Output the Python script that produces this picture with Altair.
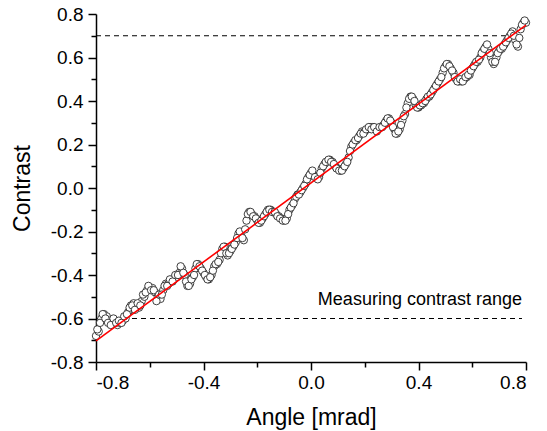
import altair as alt
import pandas as pd

# ---- data (two interleaved sweeps of samples) ----
angle_a = [
    -0.80, -0.79, -0.78, -0.77, -0.76, -0.75, -0.74, -0.73, -0.72, -0.71,
    -0.70, -0.69, -0.68, -0.67, -0.66, -0.65, -0.64, -0.63, -0.62, -0.61,
    -0.60, -0.59, -0.58, -0.57, -0.56, -0.55, -0.54, -0.53, -0.52, -0.51,
    -0.50, -0.49, -0.48, -0.47, -0.46, -0.45, -0.44, -0.43, -0.42, -0.41,
    -0.40, -0.39, -0.38, -0.37, -0.36, -0.35, -0.34, -0.33, -0.32, -0.31,
    -0.30, -0.29, -0.28, -0.27, -0.26, -0.25, -0.24, -0.23, -0.22, -0.21,
    -0.20, -0.19, -0.18, -0.17, -0.16, -0.15, -0.14, -0.13, -0.12, -0.11,
    -0.10, -0.09, -0.08, -0.07, -0.06, -0.05, -0.04, -0.03, -0.02, -0.01,
    0.00, 0.01, 0.02, 0.03, 0.04, 0.05, 0.06, 0.07, 0.08, 0.09,
    0.10, 0.11, 0.12, 0.13, 0.14, 0.15, 0.16, 0.17, 0.18, 0.19,
    0.20, 0.21, 0.22, 0.23, 0.24, 0.25, 0.26, 0.27, 0.28, 0.29,
    0.30, 0.31, 0.32, 0.33, 0.34, 0.35, 0.36, 0.37, 0.38, 0.39,
    0.40, 0.41, 0.42, 0.43, 0.44, 0.45, 0.46, 0.47, 0.48, 0.49,
    0.50, 0.51, 0.52, 0.53, 0.54, 0.55, 0.56, 0.57, 0.58, 0.59,
    0.60, 0.61, 0.62, 0.63, 0.64, 0.65, 0.66, 0.67, 0.68, 0.69,
    0.70, 0.71, 0.72, 0.73, 0.74, 0.75, 0.76, 0.77, 0.78, 0.79,
    0.80,
]
contrast_a = [
    -0.68, -0.66, -0.60, -0.58, -0.59, -0.61, -0.62, -0.61, -0.63, -0.62,
    -0.61, -0.60, -0.57, -0.54, -0.53, -0.55, -0.55, -0.52, -0.50, -0.47,
    -0.46, -0.46, -0.48, -0.50, -0.51, -0.47, -0.44, -0.44, -0.43, -0.42,
    -0.41, -0.39, -0.37, -0.40, -0.45, -0.44, -0.41, -0.37, -0.35, -0.37,
    -0.39, -0.41, -0.42, -0.40, -0.36, -0.35, -0.33, -0.28, -0.27, -0.31,
    -0.29, -0.27, -0.25, -0.21, -0.22, -0.24, -0.15, -0.11, -0.12, -0.13,
    -0.15, -0.16, -0.14, -0.12, -0.10, -0.10, -0.11, -0.12, -0.13, -0.14,
    -0.15, -0.14, -0.10, -0.08, -0.05, -0.03, -0.02, 0.00, 0.02, 0.05,
    0.07, 0.06, 0.05, 0.05, 0.09, 0.11, 0.12, 0.13, 0.12, 0.10,
    0.09, 0.08, 0.09, 0.11, 0.14, 0.19, 0.21, 0.22, 0.24, 0.26,
    0.26, 0.27, 0.28, 0.28, 0.27, 0.27, 0.28, 0.29, 0.31, 0.32,
    0.30, 0.27, 0.25, 0.27, 0.31, 0.34, 0.39, 0.42, 0.41, 0.38,
    0.37, 0.38, 0.39, 0.41, 0.42, 0.44, 0.46, 0.48, 0.50, 0.53,
    0.56, 0.57, 0.55, 0.53, 0.50, 0.49, 0.49, 0.50, 0.51, 0.52,
    0.55, 0.57, 0.58, 0.60, 0.63, 0.65, 0.64, 0.60, 0.57, 0.60,
    0.63, 0.64, 0.66, 0.68, 0.70, 0.72, 0.68, 0.65, 0.73, 0.76,
    0.76,
]
angle_b = [
    -0.795, -0.785, -0.775, -0.765, -0.755, -0.745, -0.735, -0.725, -0.715, -0.705,
    -0.695, -0.685, -0.675, -0.665, -0.655, -0.645, -0.635, -0.625, -0.615, -0.605,
    -0.595, -0.585, -0.575, -0.565, -0.555, -0.545, -0.535, -0.525, -0.515, -0.505,
    -0.495, -0.485, -0.475, -0.465, -0.455, -0.445, -0.435, -0.425, -0.415, -0.405,
    -0.395, -0.385, -0.375, -0.365, -0.355, -0.345, -0.335, -0.325, -0.315, -0.305,
    -0.295, -0.285, -0.275, -0.265, -0.255, -0.245, -0.235, -0.225, -0.215, -0.205,
    -0.195, -0.185, -0.175, -0.165, -0.155, -0.145, -0.135, -0.125, -0.115, -0.105,
    -0.095, -0.085, -0.075, -0.065, -0.055, -0.045, -0.035, -0.025, -0.015, -0.005,
    0.005, 0.015, 0.025, 0.035, 0.045, 0.055, 0.065, 0.075, 0.085, 0.095,
    0.105, 0.115, 0.125, 0.135, 0.145, 0.155, 0.165, 0.175, 0.185, 0.195,
    0.205, 0.215, 0.225, 0.235, 0.245, 0.255, 0.265, 0.275, 0.285, 0.295,
    0.305, 0.315, 0.325, 0.335, 0.345, 0.355, 0.365, 0.375, 0.385, 0.395,
    0.405, 0.415, 0.425, 0.435, 0.445, 0.455, 0.465, 0.475, 0.485, 0.495,
    0.505, 0.515, 0.525, 0.535, 0.545, 0.555, 0.565, 0.575, 0.585, 0.595,
    0.605, 0.615, 0.625, 0.635, 0.645, 0.655, 0.665, 0.675, 0.685, 0.695,
    0.705, 0.715, 0.725, 0.735, 0.745, 0.755, 0.765, 0.775, 0.785, 0.795,
]
contrast_b = [
    -0.65, -0.62, -0.58, -0.60, -0.62, -0.63, -0.60, -0.62, -0.61, -0.62,
    -0.59, -0.58, -0.55, -0.54, -0.56, -0.53, -0.54, -0.49, -0.48, -0.45,
    -0.47, -0.47, -0.52, -0.49, -0.49, -0.45, -0.45, -0.42, -0.43, -0.40,
    -0.40, -0.36, -0.39, -0.43, -0.45, -0.42, -0.40, -0.35, -0.36, -0.38,
    -0.40, -0.42, -0.41, -0.38, -0.35, -0.34, -0.30, -0.27, -0.30, -0.30,
    -0.28, -0.26, -0.23, -0.20, -0.23, -0.19, -0.12, -0.11, -0.13, -0.14,
    -0.16, -0.15, -0.13, -0.11, -0.10, -0.11, -0.11, -0.13, -0.14, -0.15,
    -0.15, -0.12, -0.09, -0.07, -0.04, -0.03, -0.01, 0.01, 0.04, 0.06,
    0.08, 0.05, 0.04, 0.07, 0.10, 0.12, 0.13, 0.12, 0.11, 0.09,
    0.08, 0.08, 0.10, 0.12, 0.17, 0.20, 0.22, 0.23, 0.25, 0.25,
    0.27, 0.28, 0.27, 0.28, 0.26, 0.28, 0.28, 0.30, 0.32, 0.31,
    0.28, 0.25, 0.26, 0.29, 0.33, 0.37, 0.41, 0.42, 0.40, 0.37,
    0.38, 0.39, 0.40, 0.42, 0.43, 0.45, 0.47, 0.49, 0.51, 0.55,
    0.57, 0.56, 0.54, 0.51, 0.49, 0.50, 0.49, 0.51, 0.52, 0.54,
    0.56, 0.58, 0.59, 0.62, 0.64, 0.66, 0.62, 0.58, 0.58, 0.62,
    0.64, 0.65, 0.67, 0.69, 0.71, 0.70, 0.66, 0.69, 0.75, 0.77,
]
fit_angle = [-0.8, 0.8]
fit_contrast = [-0.703, 0.749]
range_levels = [0.7, -0.6]
range_start = [-0.8, -0.8]
range_end = [0.785, 0.785]
label_text = ["Measuring contrast range"]
label_angle = [0.785]
label_contrast = [-0.54]

x_ticks = [-0.8, -0.6, -0.4, -0.2, 0.0, 0.2, 0.4, 0.6, 0.8]
y_ticks = [-0.8, -0.7, -0.6, -0.5, -0.4, -0.3, -0.2, -0.1, 0.0,
           0.1, 0.2, 0.3, 0.4, 0.5, 0.6, 0.7, 0.8]

FONT = "Liberation Sans"

pts = pd.DataFrame({"angle": angle_a + angle_b, "contrast": contrast_a + contrast_b})
fit = pd.DataFrame({"angle": fit_angle, "contrast": fit_contrast})
rng = pd.DataFrame({"level": range_levels, "x0": range_start, "x1": range_end})
lab = pd.DataFrame({"text": label_text, "angle": label_angle, "contrast": label_contrast})

xscale = alt.Scale(domain=[-0.8, 0.8], nice=False, zero=False)
yscale = alt.Scale(domain=[-0.8, 0.8], nice=False, zero=False)

x_major = "abs(round(datum.value*10)) % 4 == 0"
y_major = "abs(round(datum.value*10)) % 2 == 0"
lbl = "(datum.value < -0.001 ? '-' : '') + format(abs(datum.value), '.1f')"

x_axis = alt.Axis(
    values=x_ticks,
    title="Angle [mrad]",
    labelExpr=f"{x_major} ? {lbl} : ''",
    tickSize={"condition": {"test": x_major, "value": 8}, "value": 5},
    labelPadding=3,
    titlePadding=14,
)
y_axis = alt.Axis(
    values=y_ticks,
    title="Contrast",
    labelExpr=f"{y_major} ? {lbl} : ''",
    tickSize={"condition": {"test": y_major, "value": 8}, "value": 5},
    labelPadding=5,
    titlePadding=16,
)

rules = alt.Chart(rng).mark_rule(color="black", strokeWidth=1, strokeDash=[5, 4]).encode(
    x=alt.X("x0:Q", scale=xscale, axis=x_axis),
    x2="x1:Q",
    y=alt.Y("level:Q", scale=yscale, axis=y_axis),
)

points = alt.Chart(pts).mark_point(
    shape="circle", filled=True, fill="white", stroke="#2a2a2a",
    strokeWidth=0.9, size=55, opacity=1, fillOpacity=1,
).encode(
    x=alt.X("angle:Q", scale=xscale, axis=x_axis),
    y=alt.Y("contrast:Q", scale=yscale, axis=y_axis),
)

line = alt.Chart(fit).mark_line(color="#ff0000", strokeWidth=1.6).encode(
    x=alt.X("angle:Q", scale=xscale, axis=x_axis),
    y=alt.Y("contrast:Q", scale=yscale, axis=y_axis),
)

text = alt.Chart(lab).mark_text(
    align="right", baseline="alphabetic", font=FONT, fontSize=18, color="black"
).encode(
    x=alt.X("angle:Q", scale=xscale, axis=x_axis),
    y=alt.Y("contrast:Q", scale=yscale, axis=y_axis),
    text="text:N",
)

chart = alt.layer(rules, points, line, text).properties(
    width=430,
    height=348,
    autosize=alt.AutoSizeParams(type="none"),
    padding={"left": 96, "top": 14, "right": 21, "bottom": 69},
    background="white",
).configure_view(stroke=None).configure_axis(
    grid=False,
    domainColor="black",
    domainWidth=1.5,
    tickColor="black",
    tickWidth=1.5,
    labelFont=FONT,
    labelFontSize=19,
    labelColor="black",
    titleFont=FONT,
    titleFontSize=23,
    titleFontWeight="normal",
    titleColor="black",
)

chart.save("out.html", embed_options={"renderer": "svg", "actions": False})
